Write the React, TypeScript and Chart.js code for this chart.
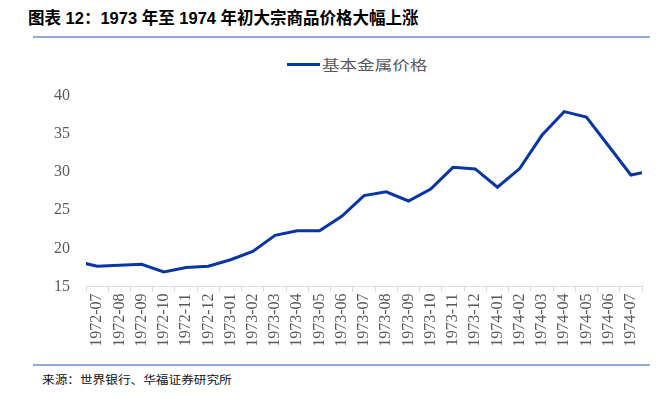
import React, { useEffect, useRef } from 'react';
import { Chart, registerables } from 'chart.js';

Chart.register(...registerables);

const TITLE = '图表 12：1973 年至 1974 年初大宗商品价格大幅上涨';
const SERIES_NAME = '基本金属价格';
const SOURCE = '来源：世界银行、华福证券研究所';

// visible categories (monthly)
const categories = [
  '1972-07', '1972-08', '1972-09', '1972-10', '1972-11', '1972-12',
  '1973-01', '1973-02', '1973-03', '1973-04', '1973-05', '1973-06',
  '1973-07', '1973-08', '1973-09', '1973-10', '1973-11', '1973-12',
  '1974-01', '1974-02', '1974-03', '1974-04', '1974-05', '1974-06', '1974-07',
];

// 基本金属价格, one value per visible month
const metalPrices = [
  17.65, 17.78, 17.9, 16.9, 17.5, 17.65,
  18.5, 19.6, 21.7, 22.3, 22.3, 24.2,
  26.9, 27.4, 26.2, 27.76, 30.6, 30.4,
  28.0, 30.45, 34.8, 37.9, 37.2, 33.4, 29.6,
];

// neighbouring months outside the plotted window (line runs to the edges)
const priceBefore = 18.35; // 1972-06
const priceAfter = 30.2; // 1974-08

const yMin = 15;
const yMax = 40;
const yStep = 5;

const LINE_COLOR = '#0a36a3';
const TEXT_GRAY = '#595959';
const AXIS_GRAY = '#d9d9d9';

export default function App() {
  const canvasRef = useRef<HTMLCanvasElement | null>(null);

  useEffect(() => {
    const canvas = canvasRef.current;
    if (!canvas) return;
    const allValues = [priceBefore, ...metalPrices, priceAfter];
    const points = allValues.map((v, i) => ({ x: i - 1, y: v }));

    const chart = new Chart(canvas, {
      type: 'line',
      data: {
        datasets: [
          {
            label: SERIES_NAME,
            data: points,
            borderColor: LINE_COLOR,
            backgroundColor: LINE_COLOR,
            borderWidth: 3,
            pointRadius: 0,
            pointHoverRadius: 0,
            tension: 0,
            clip: 0,
          },
        ],
      },
      options: {
        animation: false,
        responsive: false,
        maintainAspectRatio: false,
        layout: { padding: { left: 0, right: 26, top: 25.5, bottom: 0 } },
        plugins: {
          legend: { display: false },
          tooltip: { enabled: false },
        },
        scales: {
          x: {
            type: 'linear',
            min: -0.5,
            max: categories.length - 0.5,
            afterBuildTicks: (scale: any) => {
              scale.ticks = categories.map((_, i) => ({ value: i }));
            },
            afterFit: (scale: any) => {
              scale.height = 73.5;
            },
            ticks: {
              autoSkip: false,
              minRotation: 90,
              maxRotation: 90,
              padding: 2,
              color: TEXT_GRAY,
              font: { family: '"Liberation Serif", "Times New Roman", serif', size: 16 },
              callback: (_v: any, i: number) => categories[i],
            },
            grid: {
              offset: true,
              drawOnChartArea: false,
              drawTicks: true,
              tickLength: 5,
              color: AXIS_GRAY,
            },
            border: { display: true, color: AXIS_GRAY, width: 1 },
          },
          y: {
            min: yMin,
            max: yMax,
            afterFit: (scale: any) => {
              scale.width = 86;
            },
            ticks: {
              stepSize: yStep,
              padding: 16,
              color: TEXT_GRAY,
              font: { family: '"Liberation Serif", "Times New Roman", serif', size: 16 },
            },
            grid: { display: false, drawTicks: false },
            border: { display: false },
          },
        },
      },
    });
    return () => chart.destroy();
  }, []);

  return (
    <div
      style={{
        position: 'absolute',
        left: 0,
        top: 0,
        width: 668,
        height: 398,
        background: '#ffffff',
        overflow: 'hidden',
      }}
    >
      <div
        style={{
          position: 'absolute',
          left: 28,
          top: 8,
          lineHeight: '20px',
          fontSize: 16.5,
          fontWeight: 'bold',
          fontFamily: '"Liberation Sans", "Noto Sans CJK SC", sans-serif',
          color: '#000',
          whiteSpace: 'nowrap',
        }}
      >
        {TITLE}
      </div>
      <div
        style={{
          position: 'absolute',
          left: 33,
          top: 36,
          width: 617,
          height: 2,
          background: '#8faadc',
        }}
      />
      <div
        style={{
          position: 'absolute',
          left: 287,
          top: 62.5,
          width: 33,
          height: 3,
          background: LINE_COLOR,
        }}
      />
      <div
        style={{
          position: 'absolute',
          left: 322,
          top: 55,
          lineHeight: '18px',
          fontSize: 13.5,
          fontFamily: '"Noto Sans CJK SC", sans-serif',
          color: TEXT_GRAY,
          whiteSpace: 'nowrap',
          transform: 'scaleX(1.3)',
          transformOrigin: 'left center',
        }}
      >
        {SERIES_NAME}
      </div>
      <canvas
        ref={canvasRef}
        width={668}
        height={290}
        style={{ position: 'absolute', left: 0, top: 70, width: 668, height: 290 }}
      />
      <div
        style={{
          position: 'absolute',
          left: 33,
          top: 364,
          width: 617,
          height: 2,
          background: '#8faadc',
        }}
      />
      <div
        style={{
          position: 'absolute',
          left: 42,
          top: 371,
          lineHeight: '16px',
          fontSize: 11,
          fontFamily: '"Noto Sans CJK SC", sans-serif',
          color: '#111',
          whiteSpace: 'nowrap',
          transform: 'scaleX(1.15)',
          transformOrigin: 'left center',
        }}
      >
        {SOURCE}
      </div>
    </div>
  );
}
